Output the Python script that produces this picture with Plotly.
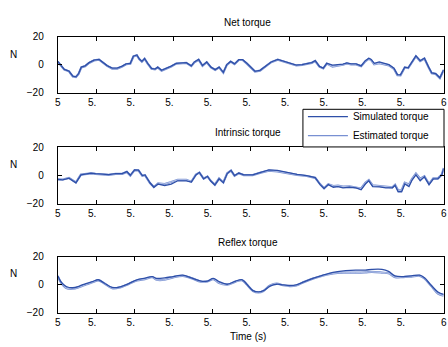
import plotly.graph_objects as go

# ---------------- data ----------------
net_t = [5.000, 5.006, 5.017, 5.029, 5.039, 5.047, 5.054, 5.061, 5.071, 5.081, 5.094, 5.107, 5.117,
         5.128, 5.141, 5.154, 5.167, 5.177, 5.188, 5.196, 5.205, 5.211, 5.218, 5.225, 5.233, 5.243,
         5.252, 5.259, 5.269, 5.282, 5.294, 5.307, 5.320, 5.333, 5.346, 5.354, 5.365, 5.375, 5.386,
         5.397, 5.408, 5.418, 5.429, 5.438, 5.448, 5.458, 5.469, 5.479, 5.490, 5.501, 5.511, 5.524,
         5.539, 5.553, 5.570, 5.586, 5.603, 5.618, 5.633, 5.645, 5.658, 5.667, 5.678, 5.688, 5.697,
         5.712, 5.726, 5.739, 5.749, 5.760, 5.773, 5.786, 5.797, 5.806, 5.812, 5.820, 5.833, 5.846,
         5.858, 5.871, 5.880, 5.888, 5.899, 5.908, 5.918, 5.928, 5.939, 5.950, 5.961, 5.969, 5.979,
         5.990, 6.000]
net_sim = [2.5, 0.7, -3.2, -4.4, -8.0, -8.5, -6.2, -1.6, -0.7, 1.6, 3.4, 3.9, 1.8,
           -0.5, -2.3, -2.3, -0.9, 0.7, 1.1, 6.2, 7.1, 4.4, 2.5, 4.6, 1.1, -2.5,
           -3.0, -1.6, -3.9, -2.5, -0.9, 1.1, 1.6, 1.6, -0.7, 2.1, 3.9, -0.5, 2.1,
           -1.6, -3.4, -1.6, -5.3, 0.2, 2.5, 0.7, 3.7, 3.7, 1.1, -1.6, -4.6, -3.9,
           -0.7, 2.1, 3.9, 2.5, 0.7, -0.2, 0.2, 1.1, 1.6, 3.0, -1.1, -2.3, 1.1,
           -0.2, 0.2, 0.5, 1.4, 0.7, 0.7, -0.7, 3.0, 4.8, 3.9, 1.1, 2.1, 1.1,
           0.2, -2.3, -6.9, -7.1, -1.6, -2.1, 2.5, 6.4, 3.0, 4.8, -1.6, -5.7, -6.2,
           -9.2, -3.5]
net_est = [2.3, 0.5, -3.4, -4.6, -8.3, -8.7, -6.4, -1.8, -0.9, 1.4, 3.2, 3.7, 1.6,
           -0.7, -2.6, -2.6, -1.1, 0.5, 0.9, 6.0, 6.9, 4.2, 2.3, 4.4, 0.9, -2.7,
           -3.2, -1.8, -4.1, -2.7, -1.1, 0.9, 1.4, 1.4, -0.9, 1.9, 3.7, -0.7, 1.9,
           -1.8, -3.6, -1.8, -5.5, 0.0, 2.3, 0.5, 3.5, 3.5, 0.9, -1.8, -4.8, -4.1,
           -0.9, 1.9, 3.7, 2.3, 0.5, -0.4, 0.0, 0.9, 1.4, 2.8, -1.3, -2.5, 0.9,
           -1.2, -0.6, 0.1, 1.0, 0.3, 0.3, -0.9, 2.6, 4.4, 3.4, 0.4, 1.2, 0.5,
           -0.3, -2.8, -7.3, -7.4, -1.8, -2.3, 2.3, 6.2, 2.8, 4.6, -1.8, -5.9, -6.4,
           -9.4, -3.7]

intr_t = [5.000, 5.013, 5.029, 5.039, 5.047, 5.060, 5.073, 5.086, 5.098, 5.115, 5.132, 5.150, 5.167,
          5.179, 5.188, 5.199, 5.209, 5.219, 5.226, 5.239, 5.249, 5.260, 5.277, 5.294, 5.311, 5.333,
          5.346, 5.358, 5.367, 5.378, 5.388, 5.397, 5.407, 5.418, 5.429, 5.439, 5.449, 5.458, 5.469,
          5.482, 5.495, 5.505, 5.526, 5.547, 5.569, 5.594, 5.620, 5.645, 5.667, 5.680, 5.690, 5.701,
          5.714, 5.726, 5.739, 5.756, 5.773, 5.786, 5.797, 5.806, 5.816, 5.833, 5.850, 5.867, 5.874,
          5.882, 5.891, 5.899, 5.910, 5.918, 5.928, 5.939, 5.950, 5.962, 5.973, 5.985, 5.995, 6.000]
intr_sim = [-2.8, -3.0, -1.8, -3.7, -5.1, 0.5, 0.9, 1.8, 1.4, 0.9, 0.7, 1.4, 1.4,
            2.8, 0.2, 4.1, 3.9, 0.0, 0.5, -5.1, -8.3, -6.0, -7.1, -6.0, -3.7, -3.7,
            -4.6, 0.5, 2.3, -2.3, -0.5, -4.1, -6.7, -2.3, -5.1, 1.4, 3.7, 0.0, 1.8,
            0.5, 0.5, 0.5, 2.3, 4.1, 3.7, 2.3, 0.9, 0.0, -1.4, -6.4, -9.2, -6.4,
            -8.3, -7.8, -8.7, -8.3, -8.7, -10.1, -6.0, -3.7, -7.8, -8.0, -8.7, -8.7, -6.9,
            -11.5, -11.5, -6.0, -7.8, -3.2, 0.5, -3.7, -0.9, -6.4, -2.3, -2.3, 0.5, 5.1]
intr_est = [-2.6, -2.8, -1.6, -3.5, -4.9, 0.7, 1.1, 1.6, 1.2, 0.7, 0.5, 1.2, 1.2,
            2.6, 0.0, 3.9, 3.7, -0.2, 0.3, -5.3, -8.1, -5.6, -6.0, -4.6, -3.0, -3.0,
            -4.4, 0.7, 2.1, -2.1, -0.7, -3.9, -6.5, -2.1, -4.9, 1.6, 3.5, -0.2, 1.6,
            0.3, 0.3, 0.3, 2.1, 3.5, 3.0, 1.6, 0.5, -0.3, -1.6, -6.2, -9.0, -6.2,
            -7.4, -7.1, -7.8, -7.6, -8.3, -9.2, -5.1, -3.2, -6.9, -7.4, -8.0, -8.3, -6.5,
            -10.6, -10.4, -5.1, -6.4, -2.3, 1.4, -2.3, -0.5, -6.0, -2.0, -2.0, 0.8, 5.4]

refl_t = [5.000, 5.009, 5.022, 5.039, 5.056, 5.073, 5.090, 5.105, 5.120, 5.141, 5.162, 5.184, 5.205,
          5.226, 5.245, 5.256, 5.277, 5.299, 5.324, 5.346, 5.371, 5.388, 5.403, 5.418, 5.439, 5.461,
          5.478, 5.490, 5.506, 5.520, 5.533, 5.550, 5.567, 5.584, 5.601, 5.618, 5.639, 5.661, 5.682,
          5.703, 5.725, 5.746, 5.772, 5.797, 5.814, 5.840, 5.857, 5.874, 5.895, 5.916, 5.938, 5.950,
          5.968, 5.985, 6.000]
refl_sim = [6.2, 1.6, -1.4, -2.3, -1.1, 0.7, 2.1, 3.4, 1.1, -2.1, -1.6, 0.7, 3.4,
            4.6, 5.7, 4.4, 4.8, 5.7, 6.7, 4.8, 2.5, 2.5, 4.4, 2.1, 0.2, 2.5,
            3.4, 0.2, -4.4, -5.3, -4.4, -1.1, 0.2, -0.2, -0.7, -0.2, 2.1, 4.4, 6.2,
            8.0, 9.2, 9.9, 10.3, 10.3, 10.8, 10.8, 9.4, 6.2, 5.7, 6.2, 6.7, 4.8,
            -0.7, -5.3, -7.1]
refl_est = [6.0, 1.2, -2.5, -3.0, -1.8, 0.0, 1.6, 3.0, 0.9, -2.6, -2.0, 0.4, 2.9,
            3.9, 5.2, 3.4, 3.4, 5.1, 6.2, 4.6, 2.1, 2.3, 3.9, 1.1, -0.1, 2.1,
            3.0, 0.0, -4.6, -5.7, -4.6, -0.7, 0.7, -0.5, -1.1, -0.7, 1.9, 4.2, 5.9,
            7.4, 8.3, 8.5, 8.5, 8.7, 9.0, 8.5, 8.0, 5.3, 5.3, 5.7, 6.2, 4.4,
            -1.1, -6.4, -8.0]

x_ticks = [5.0, 5.1, 5.2, 5.3, 5.4, 5.5, 5.6, 5.7, 5.8, 5.9, 6.0]
x_ticktext = ["5"] + ["5.\u00a0\u00a0\u00a0"] * 9 + ["6"]
y_ticks = [-20, 0, 20]
panel_titles = ["Net torque", "Intrinsic torque", "Reflex torque"]

# ---------------- styling ----------------
FONT = "Liberation Sans, Arial, sans-serif"
SIM_COLOR = "#2e4fa8"
EST_COLOR = "#7890d2"
W, H = 448, 347
x_dom = [55.5 / W, 446.7 / W]
# panel pixel boxes (top, bottom)
boxes = [(32, 90), (146.5, 204.8), (259.5, 317.5)]

fig = go.Figure()
series = [(net_t, net_sim, net_est), (intr_t, intr_sim, intr_est), (refl_t, refl_sim, refl_est)]
for i, (t, s, e) in enumerate(series):
    xa = "x" if i == 0 else f"x{i+1}"
    ya = "y" if i == 0 else f"y{i+1}"
    shape = "spline" if i == 2 else "linear"
    fig.add_trace(go.Scatter(x=t, y=e, mode="lines", xaxis=xa, yaxis=ya,
                             line=dict(color=EST_COLOR, width=2.2, shape=shape),
                             name="Estimated torque", showlegend=False, hoverinfo="skip"))
    fig.add_trace(go.Scatter(x=t, y=e, mode="lines", xaxis=xa, yaxis=ya,
                             line=dict(color="rgba(235,240,250,0.9)", width=0.6, shape=shape),
                             showlegend=False, hoverinfo="skip"))
    fig.add_trace(go.Scatter(x=t, y=s, mode="lines", xaxis=xa, yaxis=ya,
                             line=dict(color=SIM_COLOR, width=1.3, shape=shape),
                             name="Simulated torque", showlegend=(i == 0)))
    if i == 0:
        fig.add_trace(go.Scatter(x=[None], y=[None], mode="lines", xaxis=xa, yaxis=ya,
                                 line=dict(color=EST_COLOR, width=1.3),
                                 name="Estimated torque", showlegend=True))

axis_common = dict(showline=True, linecolor="black", linewidth=1, mirror="ticks",
                   ticks="inside", ticklen=4, tickcolor="black", tickwidth=1,
                   showgrid=False, zeroline=False, ticklabeloverflow="allow",
                   tickfont=dict(family=FONT, size=10, color="black"))
layout = dict(width=W, height=H, margin=dict(l=0, r=0, t=0, b=0),
              paper_bgcolor="white", plot_bgcolor="white",
              font=dict(family=FONT, size=10, color="black"),
              showlegend=True,
              legend=dict(x=304 / W, y=1 - 99.5 / H, xanchor="left", yanchor="top",
                          bgcolor="rgba(0,0,0,0)", borderwidth=0,
                          font=dict(family=FONT, size=10, color="black"),
                          tracegroupgap=0, itemwidth=40),
              shapes=[dict(type="rect", xref="paper", yref="paper",
                           x0=304 / W, x1=447 / W, y0=1 - 146 / H, y1=1 - 107 / H,
                           line=dict(color="black", width=1), fillcolor="white",
                           layer="above")])
annotations = []
for i, (top, bot) in enumerate(boxes):
    sfx = "" if i == 0 else str(i + 1)
    layout["xaxis" + sfx] = dict(axis_common, domain=x_dom, range=[5.0, 6.0],
                                 tickvals=x_ticks, ticktext=x_ticktext,
                                 anchor="y" + sfx)
    layout["yaxis" + sfx] = dict(axis_common, domain=[1 - bot / H, 1 - top / H],
                                 range=[-20, 20], tickvals=y_ticks,
                                 ticklabelstandoff=11,
                                 anchor="x" + sfx)
    annotations.append(dict(text=panel_titles[i], xref="paper", yref="paper",
                            x=248 / W, y=1 - (top - 15) / H, showarrow=False,
                            xanchor="center", yanchor="middle",
                            font=dict(family=FONT, size=10, color="black")))
    annotations.append(dict(text="N", xref="paper", yref="paper",
                            x=11 / W, y=1 - ((top + bot) / 2 - 11) / H, showarrow=False,
                            xanchor="center", yanchor="middle",
                            font=dict(family=FONT, size=10, color="black")))
annotations.append(dict(text="Time (s)", xref="paper", yref="paper",
                        x=248 / W, y=1 - 342 / H, showarrow=False,
                        xanchor="center", yanchor="middle",
                        font=dict(family=FONT, size=10, color="black")))
layout["annotations"] = annotations
fig.update_layout(**layout)
fig.write_html("out.html", config={"displayModeBar": False},
               post_script="document.body.style.margin='0px';")
